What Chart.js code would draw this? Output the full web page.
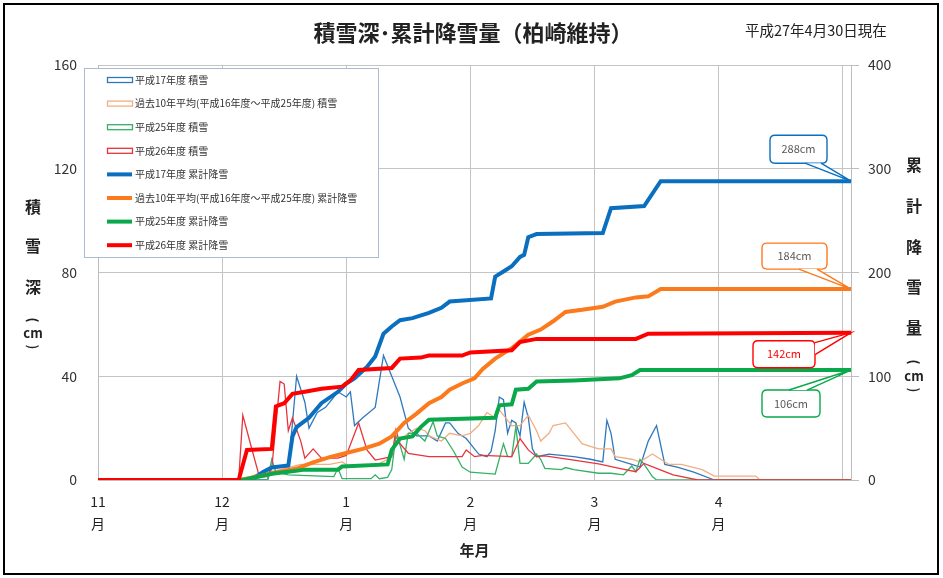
<!DOCTYPE html>
<html>
<head>
<meta charset="utf-8">
<script src="https://cdn.jsdelivr.net/npm/chart.js@4.4.0/dist/chart.umd.min.js"></script>
<style>
  html, body { margin: 0; padding: 0; background: #fff; }
  canvas { display: block; }
</style>
</head>
<body>
<canvas id="snowChart" width="943" height="578"></canvas>
<script>
const FONT = '"Noto Sans CJK JP", "Noto Sans", sans-serif';

// x は 11月1日からの日数
const monthTicks = [0, 30, 60, 90, 120, 150, 180];
const monthLabels = ["11", "12", "1", "2", "3", "4", ""];

const seriesNames = [
  "平成17年度 積雪",
  "過去10年平均(平成16年度～平成25年度) 積雪",
  "平成25年度 積雪",
  "平成26年度 積雪",
  "平成17年度 累計降雪",
  "過去10年平均(平成16年度～平成25年度) 累計降雪",
  "平成25年度 累計降雪",
  "平成26年度 累計降雪"
];

// ---- 積雪深 (cm, 左軸) ----
const h17DepthDays = [0,41,42,46,47,48,50,51,53,55,57,58,60,61,62,64,67,69,71,73,75,77,80,82,84,85,87,89,92,94,95,96,97,98,99,100,101,102,103,104,105,106,109,115,119,122,123,124,125,129,131,133,135,137,140,144,149,182];
const h17DepthVals = [0,0,5,5,22,40,30,20,26,28,32,34,32,34,21,24,28,48,40,32,20,17,17,15,22,22,18,16,10,9,11,19,32,31,18,23,22,17,30,24,12,9,10,9,8,7,23,18,8,6,5,15,21,6,5,3,0,0];

const avgDepthDays = [0,34,38,44,49,56,59,61,64,67,70,72,75,77,79,80,83,85,88,90,92,94,96,97,98,100,102,104,106,107,109,110,113,114,117,119,121,124,125,129,131,134,136,138,141,146,149,159,160,182];
const avgDepthVals = [0,0,2,4,6,6,7,5,6,5.5,8,14,18,20,19,17,15,18,17,18,21,26,24,27,25,21,21,25,19,15,18,21,22,20,14,13,12,12,9,8,7,10,8,6,6,4,1.5,1.5,0,0];

const h25DepthDays = [0,41,42,43,46,57,58,59,66,67,68,70,71,72,73,74,75,77,79,81,82,84,86,88,90,96,98,99,100,101,102,104,106,107,108,112,113,115,121,124,127,129,130,131,132,134,135,182];
const h25DepthVals = [0,0,8,3,2,1.3,4.5,0.5,0.5,2,0.5,1,4,17,13.5,8,18,18,15,22.5,17,16,11,5,3,2.3,14,9,9,20.6,6.4,6.4,10,8,4.5,4,4.8,4,2.6,2.6,2,5.4,3.2,8,6,1.3,0,0];

const h26DepthDays = [0,34,35,37,39,41,42,44,45,46,47,49,50,52,54,58,60,63,65,67,71,72,73,75,80,88,89,91,93,100,102,104,106,108,115,121,126,130,132,135,139,145,182];
const h26DepthVals = [0,0,25,13,1.3,1.3,4.5,38,37,19,24,15,8.4,12,8.4,8.4,9.5,22,11.6,7.7,9,19.3,14,10.3,9,9,11.6,9,9.5,9,16,11.6,9,9.3,7.7,6.2,4.5,3.2,6.4,4.5,2,0,0];

// ---- 累計降雪量 (cm, 右軸) ----
const h17CumDays = [0,37,40,42,46,47,48,51,54,58,60,62,65,67,69,71,73,76,80,83,85,95,96,98,100,102,103,104,106,122,124,132,136,182];
const h17CumVals = [0,0,8,12,14,42,51,60,74,85,93,98,109,119,141,148,154,156,161,166,172,175,196,201,206,215,217,234,237,238,262,264,288,288];

const avgCumDays = [0,34,37,44,48,52,56,60,64,68,71,74,77,80,83,85,88,91,93,96,100,104,107,110,113,117,122,125,130,133,136,182];
const avgCumVals = [0,0,2,8,11,17,22,26,30,35,42,55,64,74,80,87,93,98,107,117,127,140,145,153,162,164,167,172,176,177,184,184];

const h25CumDays = [0,35,42,46,50,58,59,70,71,73,76,78,80,96,97,100,101,104,106,115,126,129,131,182];
const h25CumVals = [0,0,6,8,10,10,13,15,29,40,42,51,58,60,72,73,87,88,95,96,98,101,106,106];

const h26CumDays = [0,34,36,42,43,45,47,50,54,59,61,63,71,73,78,80,88,90,100,102,106,130,133,182];
const h26CumVals = [0,0,29,30,71,74,83,85,88,90,96,106,108,117,118,120,120,123,125,133,136,136,141,142];

const seriesDays = [h17DepthDays, avgDepthDays, h25DepthDays, h26DepthDays, h17CumDays, avgCumDays, h25CumDays, h26CumDays];
const seriesVals = [h17DepthVals, avgDepthVals, h25DepthVals, h26DepthVals, h17CumVals, avgCumVals, h25CumVals, h26CumVals];
const seriesColors = ["#2f78be", "#f3ad80", "#35b066", "#e8343c", "#0b6fc0", "#fb7a1c", "#0aa84a", "#ff0000"];

function toPoints(days, vals) {
  return days.map((d, i) => ({ x: d, y: vals[i] }));
}

const datasets = seriesNames.map((name, i) => {
  const isCum = i >= 4;
  return {
    label: name,
    data: toPoints(seriesDays[i], seriesVals[i]),
    borderColor: seriesColors[i],
    backgroundColor: seriesColors[i],
    borderWidth: isCum ? 4 : 1.3,
    pointRadius: 0,
    tension: 0,
    fill: false,
    yAxisID: isCum ? "y2" : "y",
    order: 8 - i
  };
});

// 吹き出し (最終値から作る)
const calloutStyle = [
  null, null, null, null,
  { left: -81, top: -46, w: 57, h: 28, base: [[-46, -18], [-30, -18]], text: "#595959" },
  { left: -89, top: -46, w: 65, h: 26, base: [[-52, -20], [-34, -20]], text: "#595959" },
  { left: -89, top: 20, w: 58, h: 27, base: [[-62, 20], [-44, 20]], text: "#595959" },
  { left: -98, top: 8, w: 62, h: 27, base: [[-36, 10], [-36, 22]], text: "#ff0000" }
];

function roundRect(ctx, x, y, w, h, r) {
  ctx.beginPath();
  ctx.moveTo(x + r, y);
  ctx.lineTo(x + w - r, y);
  ctx.quadraticCurveTo(x + w, y, x + w, y + r);
  ctx.lineTo(x + w, y + h - r);
  ctx.quadraticCurveTo(x + w, y + h, x + w - r, y + h);
  ctx.lineTo(x + r, y + h);
  ctx.quadraticCurveTo(x, y + h, x, y + h - r);
  ctx.lineTo(x, y + r);
  ctx.quadraticCurveTo(x, y, x + r, y);
  ctx.closePath();
}

function drawVertical(ctx, chars, x, ys, font) {
  ctx.font = font;
  ctx.textAlign = "center";
  ctx.textBaseline = "middle";
  chars.forEach((c, i) => ctx.fillText(c, x, ys[i]));
}

// 縦書きの括弧 (横向きに回して描く)
function drawUnit(ctx, x, yTop, yMid, yBottom) {
  ctx.textAlign = "center";
  ctx.textBaseline = "middle";
  ctx.font = "bold 13px " + FONT;
  [["(", yTop], [")", yBottom]].forEach(([c, y]) => {
    ctx.save();
    ctx.translate(x, y);
    ctx.rotate(Math.PI / 2);
    ctx.fillText(c, 0, 0);
    ctx.restore();
  });
  ctx.fillText("cm", x, yMid);
}

const decorPlugin = {
  id: "decor",
  beforeDraw(chart) {
    const ctx = chart.ctx;
    ctx.save();
    ctx.fillStyle = "#fff";
    ctx.fillRect(0, 0, chart.width, chart.height);
    ctx.restore();
  },
  afterDatasetsDraw(chart) {
    const ctx = chart.ctx;
    const xs = chart.scales.x, ys = chart.scales.y2;
    ctx.save();
    chart.data.datasets.forEach((ds, i) => {
      const st = calloutStyle[i];
      if (!st) return;
      const last = ds.data[ds.data.length - 1];
      const px = xs.getPixelForValue(last.x);
      const py = ys.getPixelForValue(last.y);
      const bx = px + st.left, by = py + st.top;
      ctx.lineWidth = 1.4;
      ctx.strokeStyle = ds.borderColor;
      ctx.fillStyle = "#fff";
      roundRect(ctx, bx, by, st.w, st.h, 5);
      ctx.fill();
      ctx.stroke();
      const b1 = [px + st.base[0][0], py + st.base[0][1]];
      const b2 = [px + st.base[1][0], py + st.base[1][1]];
      ctx.beginPath();
      ctx.moveTo(b1[0], b1[1]);
      ctx.lineTo(px, py);
      ctx.lineTo(b2[0], b2[1]);
      ctx.closePath();
      ctx.fill();
      ctx.beginPath();
      ctx.moveTo(b1[0], b1[1]);
      ctx.lineTo(px, py);
      ctx.lineTo(b2[0], b2[1]);
      ctx.stroke();
      ctx.fillStyle = st.text;
      ctx.font = "11px " + FONT;
      ctx.textAlign = "center";
      ctx.textBaseline = "middle";
      ctx.fillText(Math.round(last.y) + "cm", bx + st.w / 2, by + st.h / 2);
    });
    ctx.restore();
  },
  afterDraw(chart) {
    const ctx = chart.ctx;
    const area = chart.chartArea;
    ctx.save();

    // 凡例
    const lx = 84, ly = 68, lw = 294, lh = 189;
    ctx.fillStyle = "#fff";
    ctx.fillRect(lx, ly, lw, lh);
    ctx.strokeStyle = "#a8bcd2";
    ctx.lineWidth = 1;
    ctx.strokeRect(lx + 0.5, ly + 0.5, lw, lh);
    chart.data.datasets.forEach((ds, i) => {
      const y = 80 + i * 23.6;
      ctx.strokeStyle = ds.borderColor;
      if (ds.borderWidth > 2) {
        ctx.lineWidth = 4;
        ctx.beginPath();
        ctx.moveTo(107, y);
        ctx.lineTo(132, y);
        ctx.stroke();
      } else {
        ctx.lineWidth = 1.3;
        ctx.strokeRect(107.5, y - 2.5, 25, 5);
      }
      ctx.fillStyle = "#333";
      ctx.font = "10px " + FONT;
      ctx.textAlign = "left";
      ctx.textBaseline = "middle";
      ctx.fillText(ds.label, 135, y);
    });

    // タイトル
    ctx.fillStyle = "#222";
    ctx.font = "bold 22px " + FONT;
    ctx.textAlign = "center";
    ctx.textBaseline = "middle";
    ctx.fillText("積雪深･累計降雪量（柏崎維持）", 473, 33);
    ctx.font = "14.5px " + FONT;
    ctx.textAlign = "left";
    ctx.fillText("平成27年4月30日現在", 745, 30);

    // 軸タイトル
    ctx.fillStyle = "#222";
    drawVertical(ctx, ["積", "雪", "深"], 33, [207, 246, 287], "bold 16px " + FONT);
    drawUnit(ctx, 33, 320, 333, 347);
    drawVertical(ctx, ["累", "計", "降", "雪", "量"], 914, [165, 206, 247, 287, 328], "bold 16px " + FONT);
    drawUnit(ctx, 914, 362, 376, 390);

    ctx.font = "bold 15px " + FONT;
    ctx.textAlign = "center";
    ctx.fillText("年月", (area.left + area.right) / 2, 550);

    // 外枠
    ctx.strokeStyle = "#000";
    ctx.lineWidth = 2;
    ctx.strokeRect(4, 4, 934, 570);
    ctx.restore();
  }
};

new Chart(document.getElementById("snowChart"), {
  type: "line",
  data: { datasets },
  options: {
    responsive: false,
    animation: false,
    events: [],
    layout: { padding: { top: 65, left: 0, right: 0, bottom: 0 } },
    plugins: {
      legend: { display: false },
      tooltip: { enabled: false },
      title: { display: false }
    },
    scales: {
      x: {
        type: "linear",
        min: 0,
        max: 182,
        afterBuildTicks: (scale) => { scale.ticks = monthTicks.map(v => ({ value: v })); },
        afterFit: (scale) => { scale.height = 98; },
        grid: { color: "#c4c4c4", lineWidth: 1, drawTicks: false },
        border: { color: "#bdbdbd" },
        ticks: {
          autoSkip: false,
          maxRotation: 0,
          padding: 10,
          color: "#222",
          font: { family: FONT, size: 14, lineHeight: 1.6 },
          callback: (v) => {
            const k = monthTicks.indexOf(v);
            return k >= 0 && monthLabels[k] ? [monthLabels[k], "月"] : "";
          }
        }
      },
      y: {
        position: "left",
        min: 0,
        max: 160,
        afterFit: (scale) => { scale.width = 98; },
        grid: { color: "#c4c4c4", lineWidth: 1, drawTicks: false },
        border: { color: "#bdbdbd" },
        ticks: { stepSize: 40, padding: 21, color: "#333", font: { family: FONT, size: 14 } }
      },
      y2: {
        position: "right",
        min: 0,
        max: 400,
        afterFit: (scale) => { scale.width = 92; },
        grid: { drawOnChartArea: false, drawTicks: true, tickLength: 8, color: "#bdbdbd" },
        border: { color: "#bdbdbd" },
        ticks: { stepSize: 100, padding: 9, color: "#333", font: { family: FONT, size: 14 } }
      }
    }
  },
  plugins: [decorPlugin]
});
</script>
</body>
</html>
